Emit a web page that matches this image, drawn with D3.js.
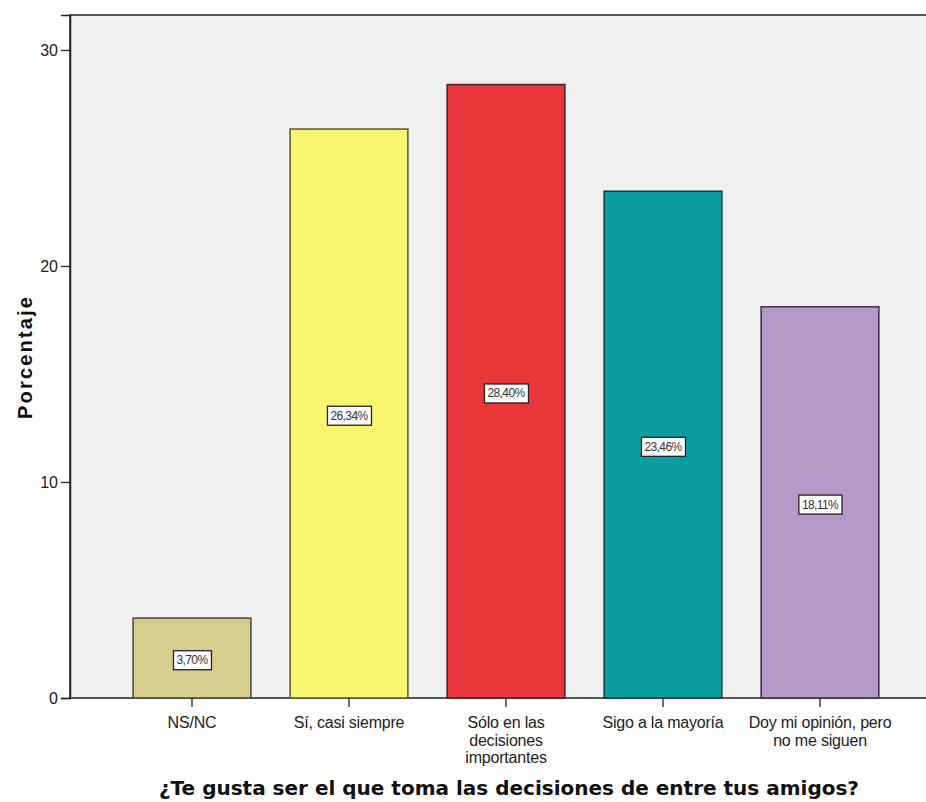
<!DOCTYPE html>
<html><head><meta charset="utf-8">
<script src="https://cdn.jsdelivr.net/npm/d3@7"></script>
<style>body{margin:0;background:#fff}svg{display:block}</style>
</head><body>
<svg id="c" width="926" height="802"></svg>
<script>
const categories = [["NS/NC"], ["Sí, casi siempre"], ["Sólo en las", "decisiones", "importantes"], ["Sigo a la mayoría"], ["Doy mi opinión, pero", "no me siguen"]];
const values = [3.70, 26.34, 28.40, 23.46, 18.11];
const valueLabels = ["3,70%", "26,34%", "28,40%", "23,46%", "18,11%"];
const colors = ["#d4cd8e", "#f8f56f", "#e8363a", "#0a9ea0", "#b599c9"];
const strokes = ["#4a4530", "#5a5830", "#4a2020", "#103a3a", "#3a2e48"];
const yTicks = [0, 10, 20, 30];

const svg = d3.select("#c");
const L = 70, T = 15, R = 926, B = 698;
const keys = categories.map((c, i) => i);
const x = d3.scaleBand().domain(keys).range([113.5, 898.5]).paddingInner(0.25).paddingOuter(0.125);
const y = d3.scaleLinear().domain([0, 31.62]).range([B, T]);

svg.append("rect").attr("x", L).attr("y", T).attr("width", R - L + 2).attr("height", B - T)
  .attr("fill", "#f0f0f0").attr("stroke", "#222").attr("stroke-width", 1.5);

svg.selectAll("rect.bar").data(values).join("rect").attr("class", "bar")
  .attr("x", (d, i) => x(i)).attr("width", x.bandwidth())
  .attr("y", d => y(d)).attr("height", d => B - y(d))
  .attr("fill", (d, i) => colors[i]).attr("stroke", (d, i) => strokes[i]).attr("stroke-width", 1.5);

// value labels
const lg = svg.selectAll("g.lab").data(values).join("g").attr("class", "lab")
  .attr("transform", (d, i) => `translate(${x(i) + x.bandwidth() / 2},${(y(d) + B) / 2 + 2})`);
lg.append("text").attr("text-anchor", "middle").attr("dy", "0.35em")
  .attr("font-family", "Liberation Sans, Arial").attr("font-size", 12).attr("fill", "#333")
  .attr("letter-spacing", -0.6)
  .text((d, i) => valueLabels[i]);
lg.each(function () {
  const g = d3.select(this);
  const bb = g.select("text").node().getBBox();
  g.insert("rect", "text").attr("x", bb.x - 3).attr("y", bb.y - 2.5).attr("width", bb.width + 6).attr("height", bb.height + 5)
    .attr("fill", "#fff").attr("stroke", "#222").attr("stroke-width", 1.3);
});

// y axis
const ya = svg.append("g").attr("transform", `translate(${L},0)`)
  .call(d3.axisLeft(y).tickValues(yTicks).tickSize(9).tickPadding(3).tickFormat(d3.format("d")));
ya.select(".domain").attr("stroke", "#222").attr("stroke-width", 1.5);
ya.selectAll(".tick line").attr("stroke", "#222").attr("stroke-width", 1.3);
ya.selectAll(".tick text").attr("font-family", "Liberation Sans, Arial").attr("font-size", 16).attr("fill", "#222");

// x axis
const xa = svg.append("g").attr("transform", `translate(0,${B})`)
  .call(d3.axisBottom(x).tickSize(9).tickFormat(""));
xa.select(".domain").remove();
xa.selectAll(".tick line").attr("stroke", "#222").attr("stroke-width", 1.3);
xa.selectAll(".tick").each(function (d) {
  const t = d3.select(this).append("text").attr("text-anchor", "middle")
    .attr("font-family", "Liberation Sans, Arial").attr("font-size", 16).attr("fill", "#222")
    .attr("letter-spacing", -0.2);
  categories[d].forEach((line, j) => t.append("tspan").attr("x", 0).attr("y", 30 + j * 17.5).text(line));
});

svg.append("text").attr("x", 509).attr("y", 795).attr("text-anchor", "middle")
  .attr("font-family", "DejaVu Sans").attr("font-weight", "bold").attr("font-size", 20).attr("fill", "#111")
  .text("¿Te gusta ser el que toma las decisiones de entre tus amigos?");
svg.append("text").attr("transform", "translate(32,358) rotate(-90)").attr("text-anchor", "middle")
  .attr("font-family", "Liberation Sans, Arial").attr("font-weight", "bold").attr("font-size", 20).attr("fill", "#111")
  .attr("textLength", 122).attr("lengthAdjust", "spacing")
  .text("Porcentaje");
</script>
</body></html>
